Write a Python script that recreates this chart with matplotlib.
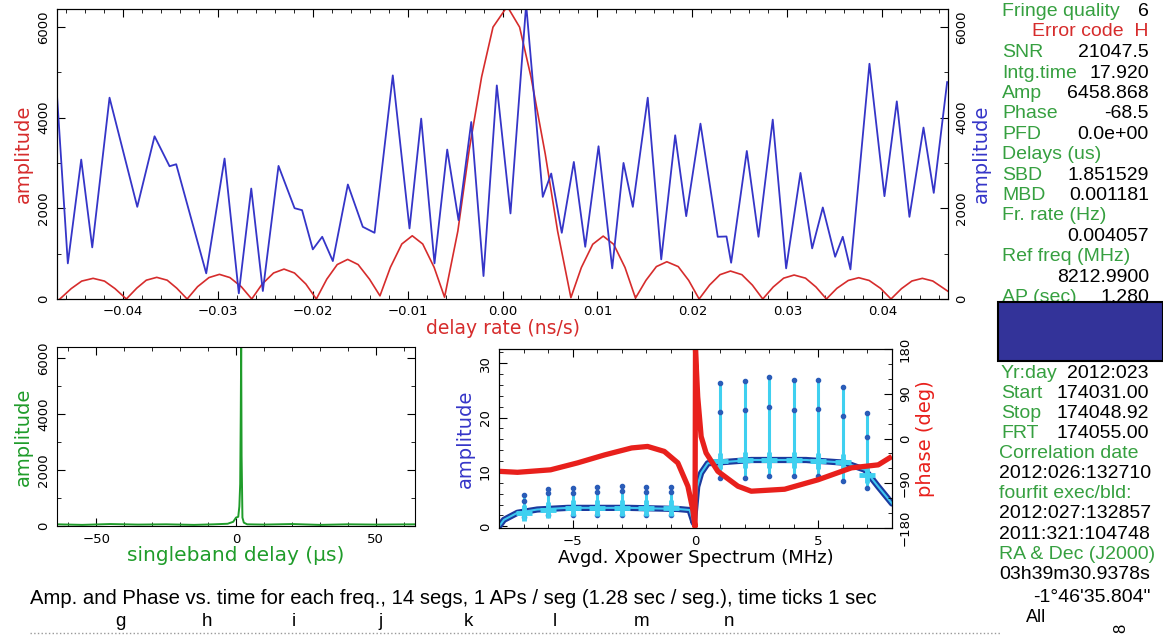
import matplotlib
matplotlib.use("Agg")
import matplotlib.pyplot as plt
from matplotlib.ticker import MultipleLocator
from matplotlib.patches import Rectangle
from matplotlib.lines import Line2D

W, H = 1163, 638

# delay rate spectrum (red)
rate_x = [-0.0466, -0.0454, -0.0443, -0.0431, -0.0419, -0.0408, -0.0396,
          -0.0385, -0.0375, -0.0364, -0.0353, -0.0343, -0.0332,
          -0.0321, -0.0309, -0.0298, -0.0287, -0.0275, -0.0264,
          -0.0253, -0.0241, -0.0230, -0.0219, -0.0207, -0.0196,
          -0.0185, -0.0174, -0.0163, -0.0152, -0.0140, -0.0129,
          -0.0118, -0.0106, -0.0095, -0.0084, -0.0072, -0.0061,
          -0.0047, -0.0035, -0.0022, -0.0010, 0.0005, 0.0018, 0.0030, 0.0045, 0.0058, 0.0072,
          0.0083, 0.0095, 0.0106, 0.0117, 0.0129, 0.0140,
          0.0151, 0.0162, 0.0173, 0.0185, 0.0196, 0.0207,
          0.0218, 0.0229, 0.0240, 0.0252, 0.0263, 0.0274,
          0.0285, 0.0296, 0.0307, 0.0319, 0.0330, 0.0341,
          0.0352, 0.0364, 0.0375, 0.0386, 0.0398, 0.0409,
          0.0420, 0.0431, 0.0442, 0.0453, 0.0469]
rate_amp = [0, 230, 395, 456, 395, 230, 0,
            240, 415, 478, 415, 240, 0,
            272, 473, 544, 473, 272, 0,
            330, 574, 660, 574, 330, 0,
            437, 760, 874, 760, 437, 70,
            700, 1214, 1395, 1214, 700, 40,
            1500, 3300, 4900, 6000, 6458, 6000, 4900, 3200, 1500, 30,
            694, 1208, 1388, 1208, 694, 20,
            411, 715, 822, 715, 411, 0,
            308, 537, 617, 537, 308, 0,
            265, 460, 529, 460, 265, 0,
            235, 409, 470, 409, 235, 0,
            228, 397, 456, 397, 170]

# multiband delay function (blue)
mbd_x = [-0.0469, -0.04576, -0.04435, -0.04319, -0.04137, -0.03845, -0.03663, -0.03505,
         -0.03435, -0.03119, -0.02926, -0.02776, -0.02645, -0.02523, -0.02358, -0.02189,
         -0.02110, -0.01997, -0.01898, -0.01786, -0.01628, -0.01471, -0.01347, -0.01155,
         -0.00979, -0.00856, -0.00716, -0.00582, -0.00463, -0.00329, -0.00200, -0.00060,
         0.00084, 0.00249, 0.00424, 0.00513, 0.00624, 0.00751, 0.00871, 0.01011,
         0.01155, 0.01274, 0.01372, 0.01529, 0.01671, 0.01818, 0.01934, 0.02084,
         0.02266, 0.02358, 0.02407, 0.02572, 0.02695, 0.02845, 0.02986, 0.03137,
         0.03260, 0.03372, 0.03502, 0.03582, 0.03663, 0.03863, 0.04021, 0.04151,
         0.04284, 0.04432, 0.04540, 0.04681]
mbd_amp = [4494, 786, 3077, 1139, 4443, 2034, 3591, 2930,
           2974, 566, 3100, 125, 2438, 176, 2937, 2004,
           1960, 1095, 1373, 837, 2527, 1593, 1461, 4935,
           1557, 3981, 786, 3298, 1740, 3906, 507, 4714,
           1888, 6500, 2254, 2769, 1461, 3025, 1152, 3371,
           676, 3003, 2034, 4443, 874, 3613, 1828, 3870,
           1373, 1380, 800, 3267, 1373, 3959, 676, 2783,
           1117, 2020, 932, 1373, 654, 5192, 2269, 4362,
           1813, 3783, 2342, 4787]

# singleband delay function
sbd_x = [-64, -55, -45, -35, -25, -15, -8, -3, -1, 0, 0.8, 1.2, 1.5, 1.7, 1.85, 2.0, 2.3, 2.8, 4, 10, 20, 30, 40, 50, 64]
sbd_amp = [60, 40, 70, 50, 60, 40, 60, 80, 150, 300, 330, 700, 1500, 4000, 6458, 2500, 300, 120, 60, 50, 70, 40, 60, 50, 60]

# averaged cross power spectrum
xp_f = [-8.0, -7.8, -7.25, -6.44, -5.2, -2.7, -0.72, -0.24, -0.07, 0.07, 0.23, 0.5, 2.27, 4.5, 6.08, 6.9, 7.44, 8.0]
xp_amp = [0.0, 1.2, 2.5, 3.1, 3.4, 3.4, 3.2, 3.0, 0.6, 7.3, 9.8, 11.6, 12.2, 12.2, 11.7, 10.4, 7.3, 4.2]
ph_f = [-8.0, -7.25, -5.9, -4.8, -3.7, -2.6, -1.95, -1.27, -0.72, -0.31, -0.11, -0.02,
        0.0, 0.09, 0.23, 0.43, 0.91, 1.73, 2.27, 3.63, 4.99, 6.35, 7.44, 7.9]
ph_deg = [-66, -68, -63, -49, -33, -19, -16, -26, -49, -96, -143, -178,
          178, 84, 4, -29, -66, -96, -106, -102, -83, -59, -53, -39]

# per-channel amplitude spread
chan_f = [-7, -6, -5, -4, -3, -2, -1, 1, 2, 3, 4, 5, 6, 7]
chan_mean = [2.5, 3.1, 3.4, 3.4, 3.4, 3.4, 3.3, 12.0, 12.2, 12.2, 12.2, 12.1, 11.8, 9.5]
chan_low = [1.8, 2.0, 2.0, 2.0, 2.0, 2.0, 2.0, 8.9, 8.9, 9.2, 9.2, 9.2, 8.4, 7.0]
chan_mid = [4.6, 6.1, 6.2, 6.4, 6.5, 6.4, 6.4, 21.1, 21.4, 22.0, 21.3, 21.5, 20.3, 16.5]
chan_top = [5.8, 6.9, 7.0, 7.3, 7.5, 7.3, 7.3, 26.4, 26.7, 27.5, 26.9, 26.9, 25.7, 20.8]

# fit summary column
summary_top = [("Fringe quality", "6"), ("", ""), ("SNR", "21047.5"), ("Intg.time", "17.920"),
               ("Amp", "6458.868"), ("Phase", "-68.5"), ("PFD", "0.0e+00"), ("Delays (us)", ""),
               ("SBD", "1.851529"), ("MBD", "0.001181"), ("Fr. rate (Hz)", ""), ("", "0.004057"),
               ("Ref freq (MHz)", ""), ("", "8212.9900"), ("AP (sec)", "1.280")]
summary_bottom = [("Yr:day", "2012:023"), ("Start", "174031.00"), ("Stop", "174048.92"),
                  ("FRT", "174055.00")]
summary_lines = [("Correlation date", "g"), ("2012:026:132710", "k"), ("fourfit exec/bld:", "g"),
                 ("2012:027:132857", "k"), ("2011:321:104748", "k"), ("RA & Dec (J2000)", "g"),
                 ("03h39m30.9378s", "k")]
channels = ["g", "h", "i", "j", "k", "l", "m", "n"]

RED = "#d62c2c"
BLUE = "#3535c8"
GREEN = "#1f9c2a"
TGREEN = "#36a040"
TICKSIZE = 9.5


def rect(l, t, r, b):
    return [l / W, 1 - b / H, (r - l) / W, (b - t) / H]


def style(ax, xmaj, xmin, ymaj, ymin, right=True):
    ax.xaxis.set_major_locator(MultipleLocator(xmaj))
    ax.xaxis.set_minor_locator(MultipleLocator(xmin))
    ax.yaxis.set_major_locator(MultipleLocator(ymaj))
    ax.yaxis.set_minor_locator(MultipleLocator(ymin))
    ax.tick_params(which="both", direction="in", top=True, right=right, labelsize=TICKSIZE, pad=5)
    ax.tick_params(which="major", length=6)
    ax.tick_params(which="minor", length=3)
    plt.setp(ax.get_yticklabels(), rotation=90, va="center")


def style_right(ax, ymaj, ymin):
    ax.yaxis.set_major_locator(MultipleLocator(ymaj))
    ax.yaxis.set_minor_locator(MultipleLocator(ymin))
    ax.tick_params(which="both", direction="in", labelsize=TICKSIZE, pad=5)
    ax.tick_params(which="major", length=6)
    ax.tick_params(which="minor", length=3)
    plt.setp(ax.get_yticklabels(), rotation=90, va="center")


fig = plt.figure(figsize=(W / 100, H / 100), dpi=100)

# delay rate / multiband delay panel
ax1 = fig.add_axes(rect(57, 9, 948, 299))
ax1.plot(rate_x, rate_amp, color=RED, lw=1.2)
ax1.set_xlim(-0.0469, 0.0469)
ax1.set_ylim(0, 6400)
style(ax1, 0.01, 0.002, 2000, 1000, right=False)
ax1.tick_params(axis="x", pad=4)
ax1.set_ylabel("amplitude", color=RED, fontsize=14, labelpad=3)
ax1.set_xlabel("delay rate (ns/s)", color=RED, fontsize=13.5, labelpad=1)
ax1r = ax1.twinx()
ax1r.plot(mbd_x, mbd_amp, color=BLUE, lw=1.3, solid_joinstyle="round")
ax1r.set_ylim(0, 6400)
style_right(ax1r, 2000, 1000)
ax1r.set_ylabel("amplitude", color=BLUE, fontsize=14, labelpad=3)

# singleband delay panel
ax2 = fig.add_axes(rect(57, 347, 415, 526))
ax2.plot(sbd_x, sbd_amp, color=GREEN, lw=1.4)
ax2.set_xlim(-64, 64)
ax2.set_ylim(0, 6400)
style(ax2, 50, 10, 2000, 1000)
ax2.set_ylabel("amplitude", color=GREEN, fontsize=14, labelpad=3)
ax2.set_xlabel("singleband delay (\u03bcs)", color=GREEN, fontsize=14.5, labelpad=0)

# cross power spectrum panel
ax3 = fig.add_axes(rect(499, 349, 892, 528))
ax3.plot(xp_f, xp_amp, color="#1b3a9e", lw=4.5, solid_capstyle="round")
ax3.plot(xp_f, xp_amp, color="#3fc6f0", lw=1.5)
ax3.vlines(chan_f, chan_low, chan_top, color="#3fd0f0", lw=2.2)
ax3.plot(chan_f, chan_top, "o", color="#2a5cb8", ms=3)
ax3.plot(chan_f, chan_mid, "o", color="#2a5cb8", ms=3)
ax3.plot(chan_f, chan_low, "o", color="#2a5cb8", ms=3)
ax3.plot(chan_f, chan_mean, "+", color="#3fd0f0", ms=11, mew=3.5)
ax3.set_xlim(-8, 8)
ax3.set_ylim(-0.3, 32.6)
style(ax3, 5, 1, 10, 2, right=False)
ax3.set_ylabel("amplitude", color=BLUE, fontsize=14, labelpad=3)
ax3.set_xlabel("Avgd. Xpower Spectrum (MHz)", color="black", fontsize=13, labelpad=1)
ax3r = ax3.twinx()
ax3r.plot(ph_f, ph_deg, color="#e8201c", lw=3.8)
ax3r.set_ylim(-180, 180)
style_right(ax3r, 90, 30)
ax3r.set_ylabel("phase (deg)", color="#e8201c", fontsize=14, labelpad=3)


def ftext(x, y, s, **kw):
    kw.setdefault("family", "Liberation Sans")
    kw.setdefault("fontsize", 14)
    fig.text(x / W, 1 - y / H, s, va="center", **kw)


y = 12
for label, value in summary_top:
    if label:
        ftext(1002, y, label, color=TGREEN)
    if value:
        ftext(1149, y, value, color="black", ha="right")
    y += 20.4
ftext(1149, 32, "Error code  H", color=RED, ha="right")

fig.add_artist(Rectangle((998 / W, 1 - 361 / H), 165 / W, 59 / H, transform=fig.transFigure,
                         facecolor="#333399", edgecolor="black", lw=1.5, zorder=5))

y = 373
for label, value in summary_bottom:
    ftext(1001, y, label, color=TGREEN)
    ftext(1149, y, value, color="black", ha="right")
    y += 20
for text, c in summary_lines:
    ftext(999, y, text, color=TGREEN if c == "g" else "black")
    y += 20.3
ftext(1150, 597, "-1\u00b046'35.804\"", color="black", ha="right")
ftext(1036, 618, "All", color="black", ha="center", fontsize=13)
ftext(1121, 628, "8", color="black", ha="center", rotation=90, fontsize=12)

ftext(30, 598, "Amp. and Phase vs. time for each freq., 14 segs, 1 APs / seg (1.28 sec / seg.), "
      "time ticks 1 sec", color="black", fontsize=14.6)
for i, ch in enumerate(channels):
    ftext(120 + 87 * i, 622, ch, color="black", ha="center", fontsize=13.5)
fig.add_artist(Line2D([30 / W, 1000 / W], [1 - 633 / H] * 2, transform=fig.transFigure,
                      ls=":", color="#999999", lw=1))

fig.savefig("out.png", dpi=100, facecolor="white")
